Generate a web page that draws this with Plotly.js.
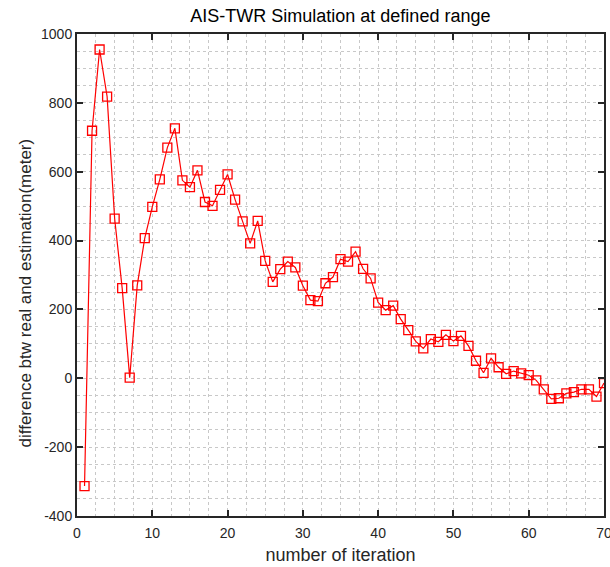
<!DOCTYPE html>
<html>
<head>
<meta charset="utf-8">
<script src="https://cdn.plot.ly/plotly-3.0.1.min.js"></script>
<style>html,body{margin:0;padding:0;background:#fff}#chart{width:610px;height:567px}</style>
</head>
<body>
<div id="chart"></div>
<script>
const iterations = [1,2,3,4,5,6,7,8,9,10,11,12,13,14,15,16,17,18,19,20,21,22,23,24,25,26,27,28,29,30,31,32,33,34,35,36,37,38,39,40,41,42,43,44,45,46,47,48,49,50,51,52,53,54,55,56,57,58,59,60,61,62,63,64,65,66,67,68,69,70];
const differenceMeters = [-313,719,955,818,464,262,2,270,407,498,578,670,726,575,555,604,512,501,547,592,519,456,392,457,341,280,317,339,322,269,227,224,276,294,346,339,368,318,290,220,198,211,172,140,107,87,114,106,126,108,123,94,51,16,58,32,13,21,14,9,-6,-32,-60,-58,-44,-40,-32,-32,-53,-14];
const xTickVals = [0,10,20,30,40,50,60,70];
const yTickVals = [-400,-200,0,200,400,600,800,1000];

const gridColor = '#c8c8c8';
const fontFam = 'Liberation Sans, Arial, sans-serif';

const trace = {
  x: iterations,
  y: differenceMeters,
  type: 'scatter',
  mode: 'lines+markers',
  line: {color: '#ff0000', width: 1.2},
  marker: {symbol: 'square-open', size: 9, color: '#ff0000', line: {color: '#ff0000', width: 1.3}},
  showlegend: false
};

const axisCommon = {
  showline: true, linecolor: '#262626', linewidth: 2, mirror: 'ticks',
  ticks: 'inside', ticklen: 6, tickwidth: 2, tickcolor: '#262626',
  showgrid: true, gridcolor: gridColor, griddash: 'dot', gridwidth: 1,
  zeroline: false, ticklabeloverflow: 'allow',
  tickfont: {family: fontFam, size: 14, color: '#262626'}
};

const layout = {
  width: 610, height: 567,
  margin: {l: 77, r: 6, t: 34, b: 51},
  paper_bgcolor: '#ffffff', plot_bgcolor: '#ffffff',
  title: {text: 'AIS-TWR Simulation at defined range', font: {family: fontFam, size: 18, color: '#000'}, x: 0.558, xanchor: 'center', y: 0.984, yanchor: 'top'},
  xaxis: Object.assign({}, axisCommon, {
    range: [0, 70], tickvals: xTickVals, ticktext: xTickVals.map(String),
    ticklabelstandoff: 3,
    minor: {dtick: 2.5, tick0: 0, showgrid: true, gridcolor: gridColor, griddash: 'dot', gridwidth: 1, ticks: ''},
    title: {text: 'number of iteration', font: {family: fontFam, size: 18, color: '#262626'}, standoff: 9}
  }),
  yaxis: Object.assign({}, axisCommon, {
    range: [-400, 1000], tickvals: yTickVals, ticktext: yTickVals.map(String),
    minor: {dtick: 50, tick0: 0, showgrid: true, gridcolor: gridColor, griddash: 'dot', gridwidth: 1, ticks: ''}
  }),
  annotations: [{
    text: 'difference btw real and estimation(meter)',
    xref: 'paper', yref: 'paper', x: -0.0968, y: 0.4637,
    xanchor: 'center', yanchor: 'middle', textangle: -90, showarrow: false,
    font: {family: fontFam, size: 17, color: '#262626'}
  }]
};

Plotly.newPlot('chart', [trace], layout, {displayModeBar: false, staticPlot: true});
</script>
</body>
</html>
